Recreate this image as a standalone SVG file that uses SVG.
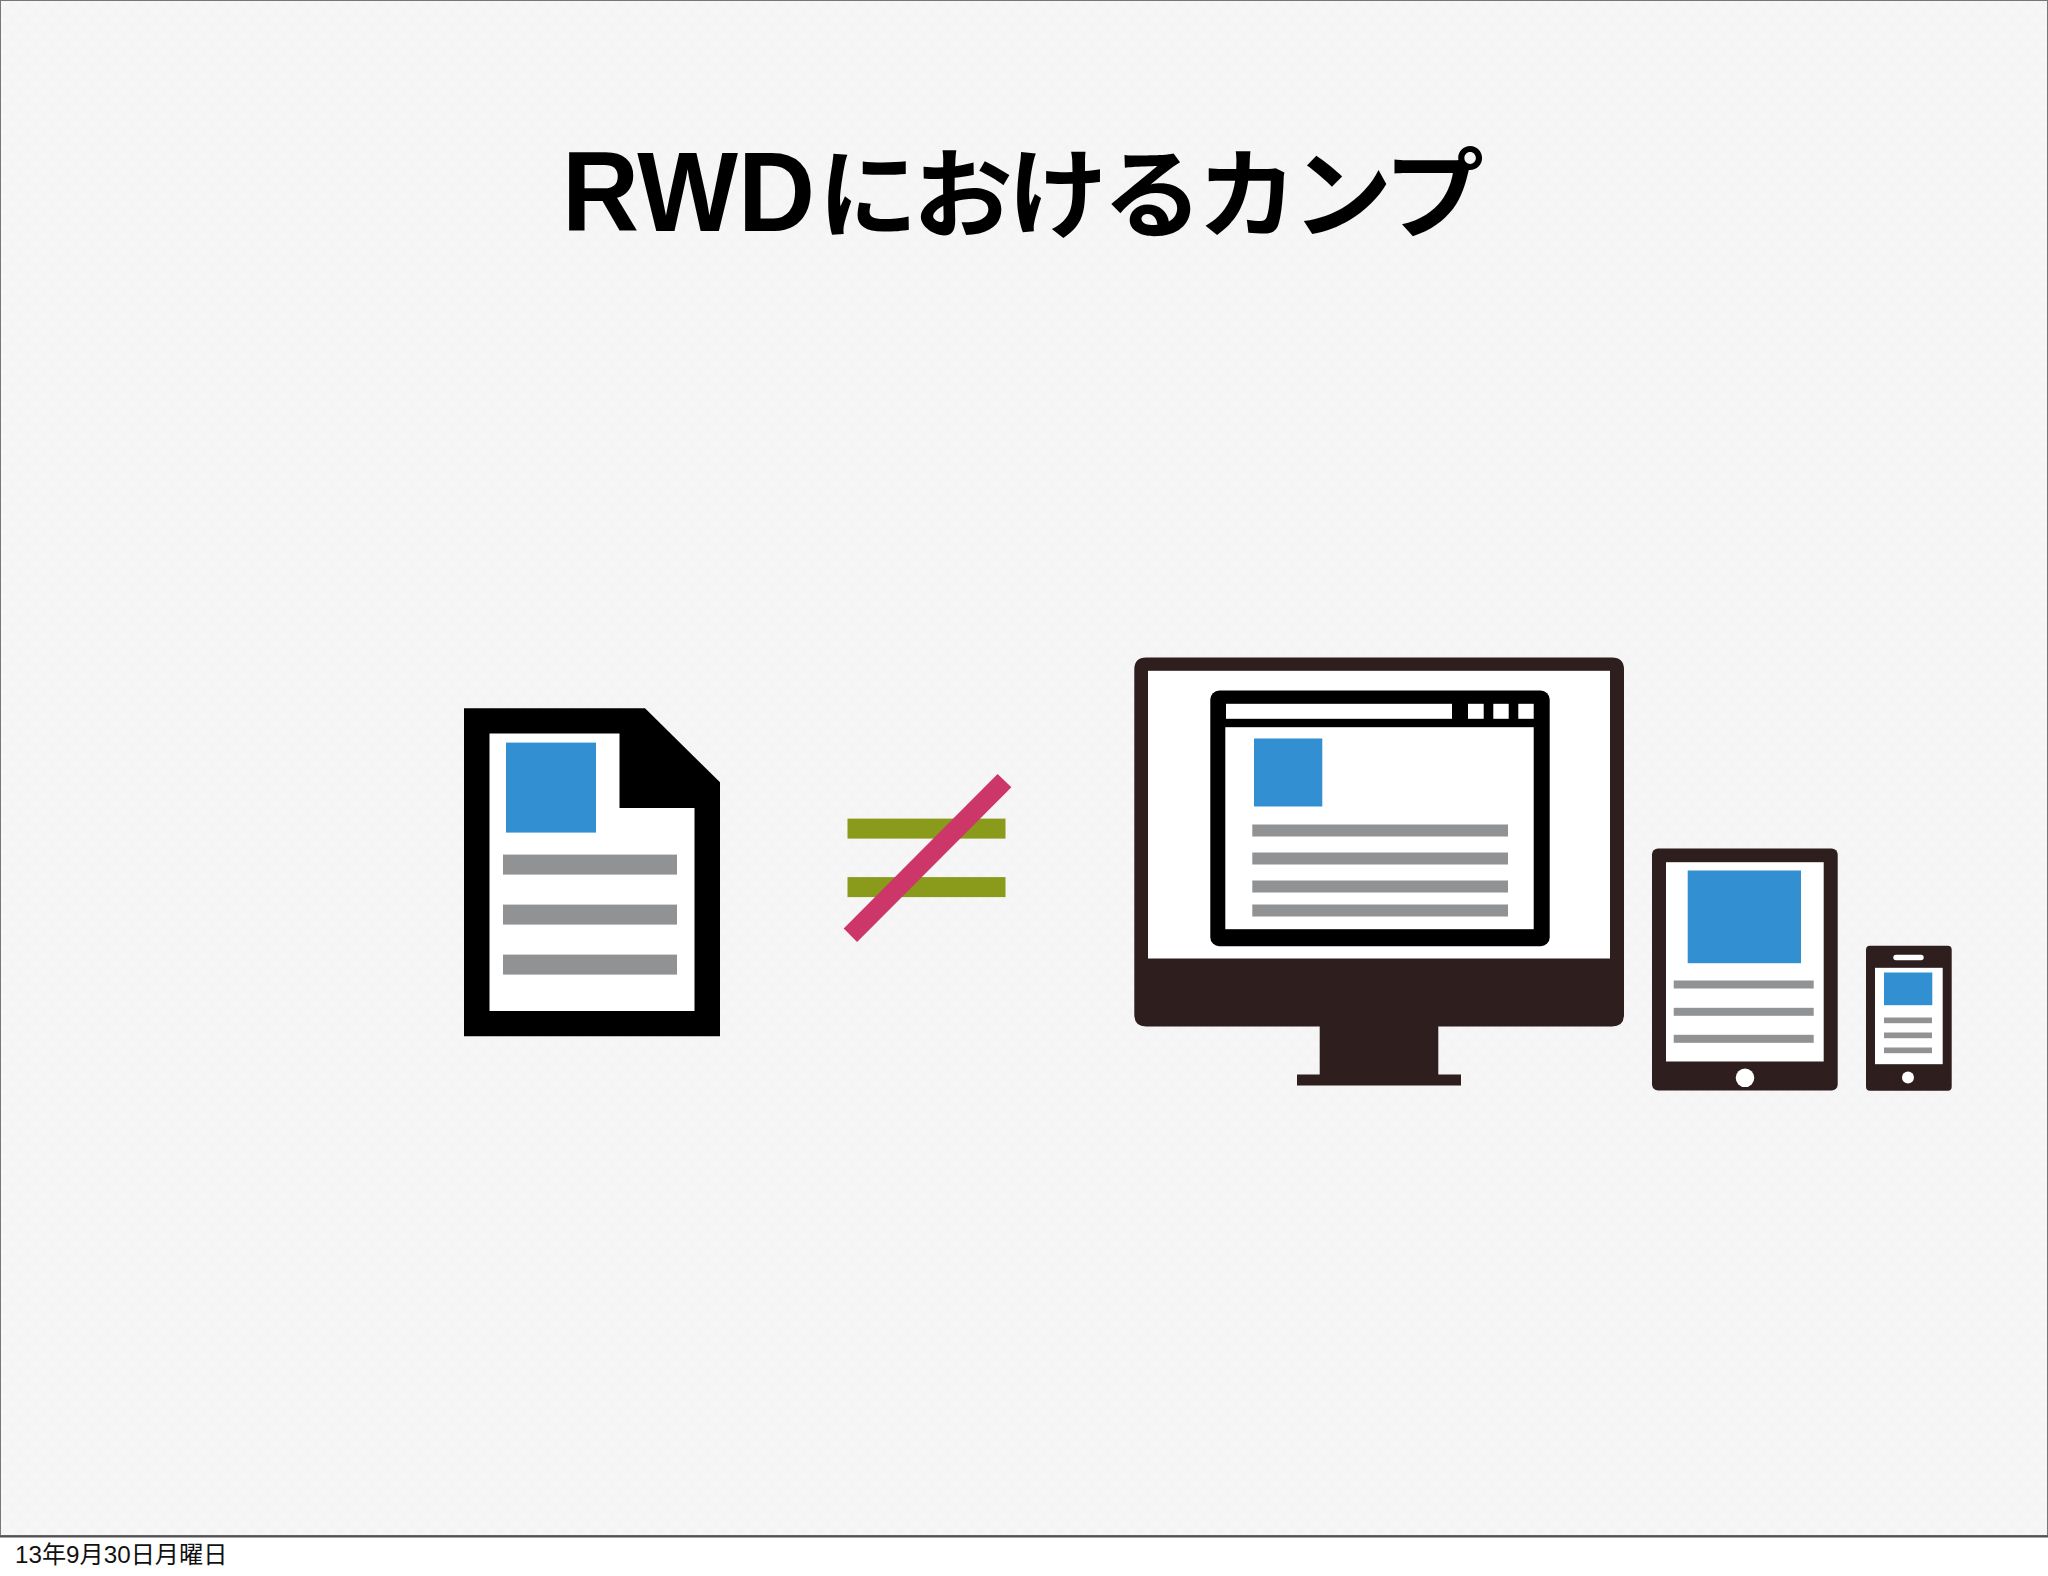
<svg xmlns="http://www.w3.org/2000/svg" width="2048" height="1576" viewBox="0 0 2048 1576">
<style>
.w{fill:#fff}.b{fill:#3290d2}.g{fill:#919293}.k{fill:#000}.d{fill:#2e1e1d}
.lat{font-family:"Liberation Sans",Arial,sans-serif}
.cjk{font-family:"Noto Sans CJK JP","Liberation Sans",sans-serif}
</style>
<defs>
<pattern id="paper" width="16" height="16" patternUnits="userSpaceOnUse">
<rect width="16" height="16" fill="#f5f5f6"/>
<rect x="1" y="2" width="5" height="5" fill="#f7f6f8"/>
<rect x="9" y="9" width="5" height="5" fill="#f7f6f8"/>
<rect x="10" y="2" width="3" height="3" fill="#f3f3f5"/>
<rect x="2" y="10" width="3" height="3" fill="#f3f3f5"/>
</pattern>
</defs>
<rect width="2048" height="1576" fill="#fff"/>
<rect id="slide" x="0.500" y="0.500" width="2047" height="1535" fill="url(#paper)" stroke="#777" stroke-width="1"/>
<rect id="slide-bottom" x="0" y="1535.500" width="2048" height="2" fill="#505054"/>
<g id="title" fill="#000">
<text x="562" y="230.500" class="lat" font-size="113" font-weight="700" textLength="253" lengthAdjust="spacingAndGlyphs">RWD</text>
<text transform="translate(818 230) scale(1 0.98)" class="cjk" font-size="100" font-weight="700" textLength="666" lengthAdjust="spacing">におけるカンプ</text>
</g>
<g id="document" transform="translate(0 0.600)">
<path class="k" d="M464 707.700H645L720 781.700V1035.700H464Z"/>
<path class="w" d="M489.500 733H619.500V807.300H694.500V1010.300H489.500Z"/>
<rect class="b" x="506" y="742" width="90" height="90"/>
<rect class="g" x="503" y="854" width="174" height="20"/>
<rect class="g" x="503" y="904" width="174" height="20"/>
<rect class="g" x="503" y="954" width="174" height="20"/>
</g>
<g id="not-equal" transform="translate(0 0.600)">
<rect x="847.500" y="818" width="158" height="20" fill="#8a9b1b"/>
<rect x="847.500" y="876.500" width="158" height="20" fill="#8a9b1b"/>
<path d="M997.600 773.300L1011.400 786.700L857.100 941.300L843.700 928Z" fill="#cc3668"/>
</g>
<g id="monitor" transform="translate(0 0.500)">
<path class="d" d="M1146 657H1612Q1624 657 1624 669V1014Q1624 1026 1612 1026H1438.300V1074H1461V1085H1297V1074H1319.700V1026H1146Q1134.300 1026 1134.300 1014V669Q1134.300 657 1146 657Z"/>
<rect class="w" x="1148" y="670.300" width="462" height="287.700"/>
<rect class="k" x="1210.300" y="690" width="339.400" height="255.700" rx="9"/>
<rect class="w" x="1226" y="703.300" width="226" height="15"/>
<rect class="w" x="1468" y="703.300" width="15.700" height="15"/>
<rect class="w" x="1493.300" y="703.300" width="15.400" height="15"/>
<rect class="w" x="1518.300" y="703.300" width="15.400" height="15"/>
<rect class="w" x="1225.300" y="726.700" width="308.400" height="202"/>
<rect class="b" x="1254" y="738" width="68.300" height="68"/>
<rect class="g" x="1252.300" y="824" width="255.700" height="12"/>
<rect class="g" x="1252.300" y="852" width="255.700" height="12"/>
<rect class="g" x="1252.300" y="880" width="255.700" height="12"/>
<rect class="g" x="1252.300" y="904" width="255.700" height="12"/>
</g>
<g id="tablet" transform="translate(0 0.500)">
<rect class="d" x="1652" y="848" width="185.700" height="242" rx="6"/>
<rect class="w" x="1666" y="861.700" width="157.700" height="199.300"/>
<rect class="b" x="1687.700" y="870" width="113.300" height="92.700"/>
<rect class="g" x="1673.700" y="980" width="140" height="8"/>
<rect class="g" x="1673.700" y="1007.300" width="140" height="8"/>
<rect class="g" x="1673.700" y="1034.300" width="140" height="8"/>
<circle class="w" cx="1745" cy="1077.300" r="9.300"/>
</g>
<g id="phone" transform="translate(0 0.500)">
<rect class="d" x="1866" y="945.300" width="85.700" height="145" rx="4"/>
<rect class="w" x="1893.300" y="954.300" width="30.400" height="5.400" rx="2.700"/>
<rect class="w" x="1875" y="967.300" width="67.700" height="96.400"/>
<rect class="b" x="1884" y="972" width="48.300" height="32.700"/>
<rect class="g" x="1884" y="1017" width="48" height="5.700"/>
<rect class="g" x="1884" y="1032" width="48" height="5.700"/>
<rect class="g" x="1884" y="1047" width="48" height="5.700"/>
<circle class="w" cx="1908" cy="1077" r="6"/>
</g>
<text id="date" x="15" y="1563" font-size="24.200" fill="#111" class="lat">13<tspan class="cjk">年</tspan>9<tspan class="cjk">月</tspan>30<tspan class="cjk">日月曜日</tspan></text>
</svg>
